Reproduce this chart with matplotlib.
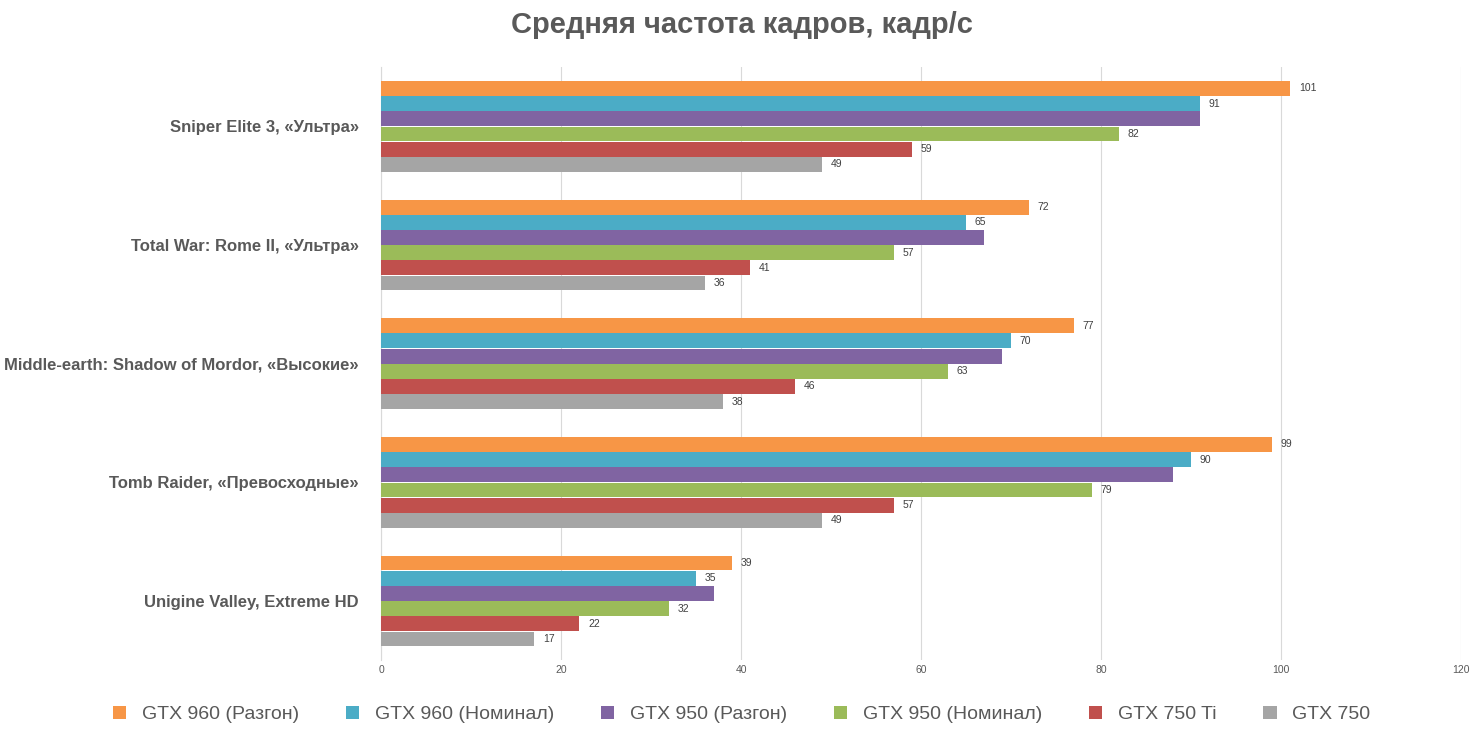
import numpy as np
import matplotlib.pyplot as plt

plt.rcParams['font.family'] = ['Liberation Sans', 'DejaVu Sans']

games = ['Sniper Elite 3, «Ультра»', 'Total War: Rome II, «Ультра»',
         'Middle-earth: Shadow of Mordor, «Высокие»', 'Tomb Raider, «Превосходные»',
         'Unigine Valley, Extreme HD']
series = ['GTX 960 (Разгон)', 'GTX 960 (Номинал)', 'GTX 950 (Разгон)',
          'GTX 950 (Номинал)', 'GTX 750 Ti', 'GTX 750']
gtx960_oc = [101, 72, 77, 99, 39]
gtx960 = [91, 65, 70, 90, 35]
gtx950_oc = [91, 67, 69, 88, 37]
gtx950 = [82, 57, 63, 79, 32]
gtx750ti = [59, 41, 46, 57, 22]
gtx750 = [49, 36, 38, 49, 17]
values = [gtx960_oc, gtx960, gtx950_oc, gtx950, gtx750ti, gtx750]
show_labels = [True, True, False, True, True, True]
colors = ['#F79646', '#4BACC6', '#8064A2', '#9BBB59', '#C0504D', '#A5A5A5']

fig = plt.figure(figsize=(14.83, 7.37), dpi=100)
ax = fig.add_axes([0.257, 0.104, 0.728, 0.805])
y = np.arange(len(games))
h = 0.128
for i, (name, vals) in enumerate(zip(series, values)):
    pos = y - 2.5 * h + i * h
    ax.barh(pos, vals, height=h * 0.98, color=colors[i], label=name, zorder=3)
    if show_labels[i]:
        for p, v in zip(pos, vals):
            ax.text(v + 1, p, str(v), va='center', ha='left', fontsize=7.5, color='#404040')

ax.set_xlim(0, 120)
ax.set_xticks(range(0, 121, 20))
ax.set_ylim(len(games) - 0.5, -0.5)
ax.set_yticks(y)
ax.set_yticklabels(games, fontsize=12, fontweight='bold', color='#595959')
ax.tick_params(axis='x', labelsize=7.5, colors='#595959', length=0)
ax.tick_params(axis='y', length=0, pad=16)
ax.grid(axis='x', color='#D9D9D9', zorder=0)
for s in ['top', 'right', 'bottom']:
    ax.spines[s].set_visible(False)
ax.spines['left'].set_color('#D9D9D9')

fig.suptitle('Средняя частота кадров, кадр/с', fontsize=21, fontweight='bold',
             color='#595959', y=0.985)
fig.legend(loc='lower center', ncol=6, frameon=False, fontsize=14,
           handlelength=0.7, handleheight=0.7, columnspacing=2.4,
           bbox_to_anchor=(0.5, -0.005), labelcolor='#595959')
fig.savefig('out.png')
